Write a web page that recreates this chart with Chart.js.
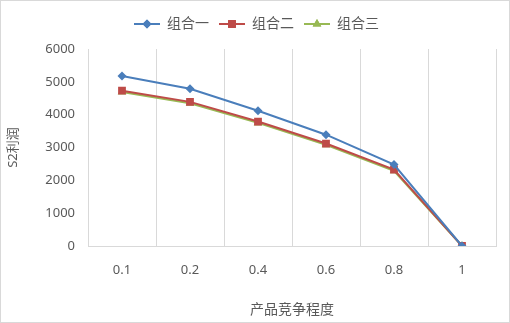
<!DOCTYPE html>
<html>
<head>
<meta charset="utf-8">
<script src="https://cdn.jsdelivr.net/npm/chart.js@4"></script>
<style>
  html, body { margin: 0; padding: 0; background: #fff; }
  #wrap { width: 510px; height: 323px; box-sizing: border-box; border: 1px solid #d9d9d9; }
</style>
</head>
<body>
<div id="wrap"><canvas id="chart" width="508" height="321"></canvas></div>
<script>
// 横轴: 产品竞争程度
const categories = ['0.1', '0.2', '0.4', '0.6', '0.8', '1'];

// S2利润
const group1 = [5180, 4790, 4120, 3390, 2480, 0];
const group2 = [4730, 4390, 3790, 3120, 2330, 0];
const group3 = [4690, 4350, 3750, 3080, 2290, 0];

const seriesNames = ['组合一', '组合二', '组合三'];
const yTicks = [0, 1000, 2000, 3000, 4000, 5000, 6000];

const colors = ['#4a7ebb', '#be4b48', '#98b954'];
const markers = ['rectRot', 'rect', 'triangle'];
const radii = [4.5, 5.5, 5];

const FONT = '"Noto Sans", "Noto Sans CJK SC", sans-serif';
const TXT = '#595959';

// 图例用的小图标: 线 + 标记
function legendIcon(color, style, r) {
    const c = document.createElement('canvas');
    c.width = 26; c.height = 12;
    const g = c.getContext('2d');
    g.strokeStyle = color; g.lineWidth = 2;
    g.beginPath(); g.moveTo(0, 6); g.lineTo(26, 6); g.stroke();
    g.fillStyle = color;
    Chart.helpers.drawPoint(g, { pointStyle: style, radius: r, rotation: 0, borderWidth: 0 }, 13, 6);
    g.fill();
    return c;
}

// 图例下方留白, 并稍微右移
const legendGap = {
    id: 'legendGap',
    beforeInit(chart) {
        const legend = chart.legend;
        const fit = legend.fit;
        legend.fit = function () {
            fit.call(this);
            this.height += 8;
        };
        const draw = legend.draw;
        legend.draw = function () {
            const ctx = this.ctx;
            ctx.save();
            ctx.translate(8, 0);
            draw.call(this);
            ctx.restore();
        };
    }
};

const datasets = [group1, group2, group3].map((d, i) => ({
    label: seriesNames[i],
    data: d,
    borderColor: colors[i],
    backgroundColor: colors[i],
    borderWidth: 2,
    pointStyle: markers[i],
    pointRadius: radii[i],
    pointBorderWidth: 0,
    tension: 0
}));

new Chart(document.getElementById('chart').getContext('2d'), {
    type: 'line',
    data: { labels: categories, datasets },
    options: {
        responsive: false,
        animation: false,
        layout: { padding: { top: 6, right: 13, left: 0, bottom: 0 } },
        plugins: {
            tooltip: { enabled: false },
            legend: {
                position: 'top',
                labels: {
                    usePointStyle: true,
                    pointStyleWidth: 26,
                    padding: 10,
                    color: TXT,
                    font: { family: FONT, size: 14 },
                    generateLabels: chart => chart.data.datasets.map((ds, i) => ({
                        text: ds.label,
                        pointStyle: legendIcon(colors[i], markers[i], radii[i]),
                        fontColor: TXT,
                        lineWidth: 0,
                        datasetIndex: i
                    }))
                }
            }
        },
        scales: {
            x: {
                offset: true,
                grid: { offset: true, color: '#d9d9d9', drawTicks: false, lineWidth: 1 },
                border: { color: '#d9d9d9' },
                ticks: { color: TXT, font: { family: FONT, size: 13 }, padding: 16 },
                title: { display: true, text: '产品竞争程度', color: TXT, font: { family: FONT, size: 14 }, padding: { top: 14 } },
                afterFit: s => { s.height = 76; }
            },
            y: {
                min: 0, max: 6000,
                afterBuildTicks: s => { s.ticks = yTicks.map(v => ({ value: v })); },
                grid: { display: false, drawTicks: false },
                border: { display: false },
                ticks: { color: TXT, font: { family: FONT, size: 13 }, padding: 13, callback: v => String(v) },
                title: { display: true, text: 'S2利润', color: TXT, font: { family: FONT, size: 13 } },
                afterFit: s => { s.width = 87; }
            }
        }
    },
    plugins: [legendGap]
});
</script>
</body>
</html>
